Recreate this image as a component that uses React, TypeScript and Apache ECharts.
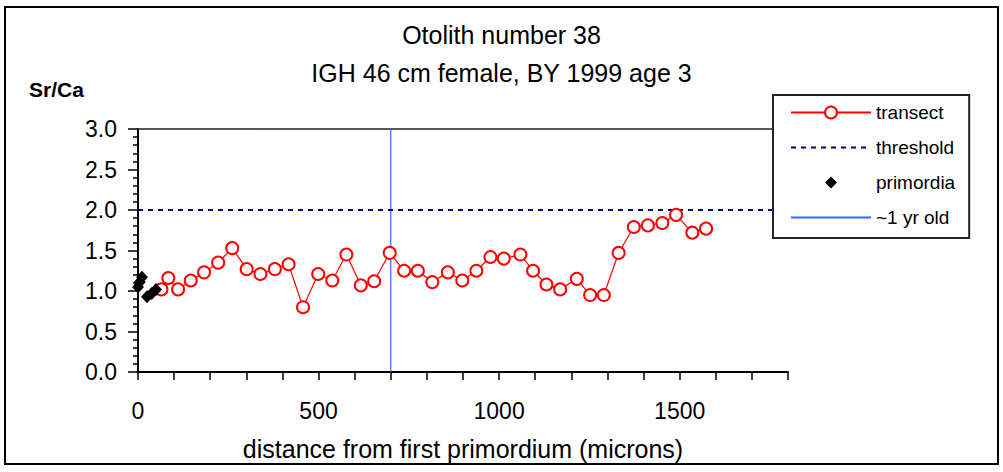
import React, { useEffect, useRef } from "react";
import * as echarts from "echarts";

const transectX = [65, 84, 111, 146, 183, 222, 261, 301, 339, 379, 417, 457, 499, 538, 577, 617, 654, 697, 737, 775, 815, 858, 898, 937, 976, 1013, 1059, 1094, 1131, 1169, 1215, 1252, 1290, 1331, 1373, 1412, 1452, 1490, 1535, 1573];
const transectY = [1.02, 1.16, 1.02, 1.13, 1.23, 1.35, 1.53, 1.27, 1.21, 1.27, 1.33, 0.8, 1.21, 1.13, 1.45, 1.07, 1.12, 1.47, 1.25, 1.25, 1.11, 1.23, 1.13, 1.25, 1.42, 1.4, 1.45, 1.25, 1.08, 1.02, 1.15, 0.95, 0.95, 1.47, 1.79, 1.81, 1.84, 1.94, 1.72, 1.77];
const primordiaX = [0, 5, 11, 25, 38, 50];
const primordiaY = [1.05, 1.11, 1.17, 0.93, 0.97, 1.02];
const thresholdValue = 2.0;
const oneYearX = 700;
const xRange = [0, 1800];
const yRange = [0, 3];
const xLabelTicks = [0, 500, 1000, 1500];
const titleLines = ["Otolith number 38", "IGH 46 cm female, BY 1999 age 3"];
const seriesNames = ["transect", "threshold", "primordia", "~1 yr old"];

const diamondIcon = "path://M0,6L0.01,6ZM34,6L40,0L46,6L40,12ZM79.99,6L80,6Z";

export default function App() {
  const ref = useRef<HTMLDivElement>(null);
  useEffect(() => {
    if (!ref.current) return;
    const chart = echarts.init(ref.current, null, { renderer: "svg" });
    const font = "Liberation Sans, Arial, sans-serif";
    chart.setOption({
      animation: false,
      backgroundColor: "#fff",
      textStyle: { fontFamily: font },
      title: [
        {
          text: titleLines.join("\n"),
          left: "center",
          top: 11,
          textStyle: { fontSize: 25, fontWeight: "normal", color: "#000", lineHeight: 38, fontFamily: font },
        },
        {
          text: "Sr/Ca",
          left: 24,
          top: 74,
          textStyle: { fontSize: 21, fontWeight: "bold", color: "#000", fontFamily: font },
        },
      ],
      graphic: [
        {
          type: "rect",
          shape: { x: 5, y: 7, width: 993, height: 457 },
          style: { fill: "none", stroke: "#000", lineWidth: 2 },
          silent: true,
        },
      ],
      grid: { left: 138, top: 129, right: 215, bottom: 100 },
      legend: {
        orient: "vertical",
        left: 773,
        top: 95,
        padding: [8, 14, 11, 17],
        itemWidth: 80,
        itemHeight: 15,
        itemGap: 16,
        backgroundColor: "#fff",
        borderColor: "#222",
        borderWidth: 2,
        borderRadius: 0,
        textStyle: { fontSize: 19, color: "#000", fontFamily: font },
        data: [
          { name: seriesNames[0] },
          { name: seriesNames[1], itemStyle: { opacity: 0 } },
          { name: seriesNames[2], icon: diamondIcon, itemStyle: { color: "#000", opacity: 1 } },
          { name: seriesNames[3], itemStyle: { opacity: 0 } },
        ],
      },
      xAxis: [
        {
          type: "value",
          min: xRange[0],
          max: xRange[1],
          interval: 100,
          axisLine: { show: true, onZero: false, lineStyle: { color: "#000", width: 2 } },
          axisTick: { show: true, length: 8, lineStyle: { color: "#000", width: 1.5 } },
          splitLine: { show: false },
          axisLabel: {
            margin: 27,
            fontSize: 23,
            color: "#000",
            fontFamily: font,
            formatter: (v: number) => (xLabelTicks.includes(v) ? String(v) : ""),
          },
          name: "distance from first primordium (microns)",
          nameLocation: "middle",
          nameGap: 64,
          nameTextStyle: { fontSize: 25, color: "#000", fontFamily: font },
        },
        {
          type: "value",
          position: "top",
          min: xRange[0],
          max: xRange[1],
          axisLine: { show: true, onZero: false, lineStyle: { color: "#222", width: 1.5 } },
          axisTick: { show: false },
          axisLabel: { show: false },
          splitLine: { show: false },
        },
      ],
      yAxis: {
        type: "value",
        min: yRange[0],
        max: yRange[1],
        interval: 0.5,
        axisLine: { show: true, onZero: false, lineStyle: { color: "#000", width: 2 } },
        axisTick: { show: true, length: 10, lineStyle: { color: "#000", width: 1.5 } },
        minorTick: { show: true, splitNumber: 5, length: 5, lineStyle: { color: "#000", width: 1.5 } },
        splitLine: { show: false },
        axisLabel: {
          margin: 21,
          fontSize: 23,
          color: "#000",
          fontFamily: font,
          formatter: (v: number) => v.toFixed(1),
        },
      },
      series: [
        {
          name: seriesNames[0],
          type: "line",
          data: transectX.map((x, i) => [x, transectY[i]]),
          symbol: "emptyCircle",
          symbolSize: 12,
          itemStyle: { color: "#ff0000", borderWidth: 1.5 },
          lineStyle: { color: "#ff0000", width: 1.2 },
          z: 5,
        },
        {
          name: seriesNames[1],
          type: "line",
          data: [
            [xRange[0], thresholdValue],
            [xRange[1], thresholdValue],
          ],
          symbol: "none",
          itemStyle: { color: "#000080" },
          lineStyle: { color: "#000080", width: 2, type: [5, 5] },
          z: 3,
        },
        {
          name: seriesNames[2],
          type: "scatter",
          data: primordiaX.map((x, i) => [x, primordiaY[i]]),
          symbol: "diamond",
          symbolSize: [12, 13],
          itemStyle: { color: "#000", opacity: 1 },
          z: 6,
        },
        {
          name: seriesNames[3],
          type: "line",
          data: [
            [oneYearX, yRange[0]],
            [oneYearX, yRange[1]],
          ],
          symbol: "none",
          itemStyle: { color: "#3366ff" },
          lineStyle: { color: "#3366ff", width: 1.2 },
          z: 2,
        },
      ],
    });
    return () => chart.dispose();
  }, []);
  return <div ref={ref} style={{ position: "fixed", left: 0, top: 0, width: 1003, height: 472 }} />;
}
